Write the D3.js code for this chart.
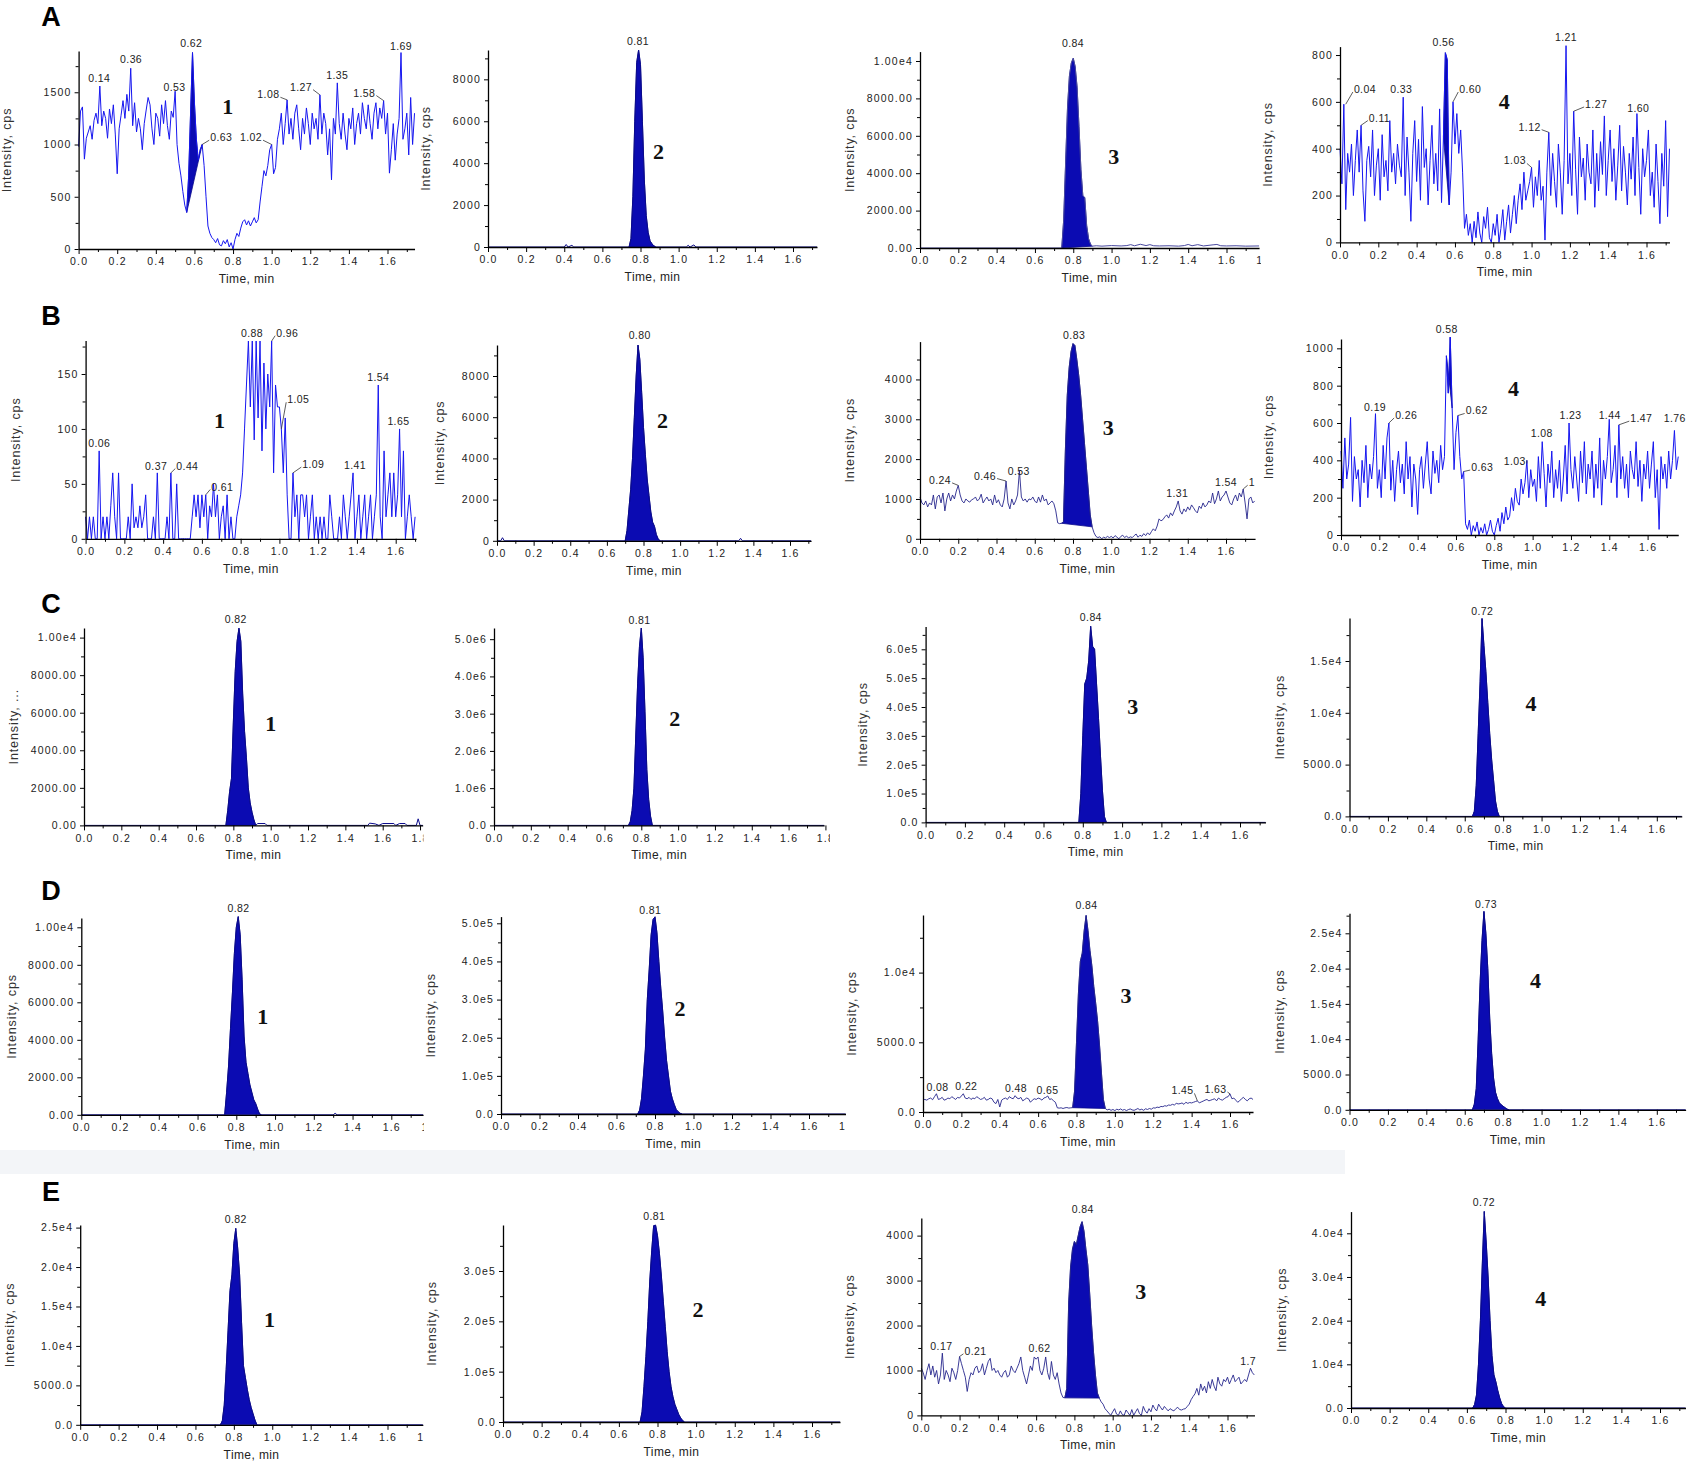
<!DOCTYPE html>
<html>
<head>
<meta charset="utf-8">
<title>LC-MS/MS chromatograms A-E</title>
<script src="https://cdn.jsdelivr.net/npm/d3@7"></script>
<style>
body{margin:0;background:#fff;}
svg text{font-family:"Liberation Sans",Arial,sans-serif;}
</style>
</head>
<body>
<svg id="chart" width="1694" height="1463"></svg>
<script>

// ------------------------------------------------------------------
// ---------------------------- DATA --------------------------------
// ------------------------------------------------------------------

// noisy traces: one value every 0.01 min, starting at 0.00 min
var A1_values = [
 980,1320,1360,860,1060,1120,1180,1050,1230,1300,
 1200,1560,1180,1320,1250,1060,1340,1200,1380,1100,
 720,1150,1280,1420,1250,1480,1320,1730,1180,1400,
 1120,1250,1150,950,1200,1330,1450,1380,1150,1000,
 1300,1250,1080,1380,1200,1420,1180,1050,1320,1260,
 1510,1000,820,700,550,420,350,700,1300,1880,
 1400,1050,850,950,1000,800,500,220,150,110,
 90,60,100,40,30,80,50,90,20,60,
 0,90,150,120,200,260,280,230,270,220,
 260,300,250,280,450,600,750,700,800,950,
 1000,720,780,1050,1150,1300,1000,1200,1427,1100,
 1250,1050,1300,1380,1150,950,1250,1100,1350,1200,
 1000,1300,1150,1250,1050,1475,1100,1300,1200,900,
 1150,662,1250,1100,1590,1200,1050,1300,1100,950,
 1250,1150,1350,1000,1200,1300,1100,1400,1250,1150,
 1380,1200,1050,1300,1400,1150,1350,1250,1420,1100,
 1300,726,950,1200,850,1100,1250,1880,1050,1150,
 1300,900,1450,1000,1300];

var A4_values = [
 400,250,590,140,380,300,420,200,350,480,
 300,500,220,90,350,410,280,480,200,330,
 400,180,460,280,350,220,520,300,380,250,
 420,330,280,620,200,450,300,90,380,520,
 260,440,180,580,320,400,160,350,500,250,
 380,220,570,170,450,810,780,160,300,600,
 420,550,380,480,300,60,120,30,80,0,
 90,20,130,40,0,110,60,150,20,0,
 80,30,120,0,60,140,10,90,160,40,
 120,200,80,180,250,140,300,180,220,260,
 320,150,280,200,350,180,240,10,300,470,
 200,380,260,150,420,300,120,350,840,250,
 380,200,560,310,120,450,280,360,180,420,
 300,250,480,150,380,220,430,290,540,200,
 350,480,260,400,180,330,500,220,410,300,
 160,380,270,450,200,550,320,120,400,280,
 350,480,200,300,150,420,260,80,380,240,
 520,110,400];

var B1_values = [
 20,0,20,0,20,0,0,80,0,20,
 0,20,0,30,60,20,0,60,0,0,
 0,0,20,0,50,10,20,10,30,10,
 20,40,0,0,0,20,0,60,0,0,
 0,0,20,0,60,0,0,50,0,0,
 0,0,0,0,0,20,40,20,40,10,
 40,20,40,0,30,20,50,20,40,0,
 20,30,0,40,0,20,0,0,20,30,
 40,60,100,140,180,120,180,90,180,110,
 180,80,160,100,150,120,180,60,140,120,
 120,100,60,110,40,0,0,60,20,40,
 0,40,40,20,40,0,20,40,0,20,
 0,20,0,20,0,0,40,20,0,0,
 0,20,0,40,20,0,20,40,60,0,
 20,40,0,20,40,0,20,40,0,20,
 40,140,20,0,80,20,40,60,20,60,
 20,40,100,20,80,0,20,40,20,0,
 20];

var B3_values = [
 1050,900,850,950,800,900,850,1100,750,1050,
 1100,900,1150,700,1000,1150,950,1100,1000,1200,
 1340,1100,950,900,1000,950,920,980,1000,1050,
 950,1000,1120,900,980,1050,950,1000,850,1100,
 900,980,850,800,1000,1450,900,750,1000,850,
 950,1100,1710,1050,950,1000,920,1000,980,1050,
 950,900,1050,920,1100,950,1000,850,900,950,
 880,700,400,380,390,420,2200,3600,4300,4700,
 4900,4850,4500,4100,3600,3000,2400,1800,1200,600,
 300,150,60,30,50,0,40,20,60,30,
 60,20,80,40,0,60,90,30,70,20,
 50,30,80,120,40,90,60,130,80,150,
 100,180,250,200,320,500,450,480,550,600,
 520,650,580,700,800,950,700,620,750,680,
 800,720,850,780,700,650,820,760,900,800,
 850,950,900,1150,880,1000,1200,950,1050,1100,
 1200,1050,900,850,1000,1100,950,1150,1050,1250,
 900,500,1000,1050,900,950];

var B4_values = [
 450,250,520,300,380,630,180,420,300,350,
 150,400,280,480,200,380,300,420,650,250,
 350,200,480,300,520,600,240,400,180,350,
 450,280,380,220,500,300,420,150,380,300,
 110,350,420,250,380,500,300,220,450,330,
 400,280,480,350,420,960,760,1060,680,350,
 550,640,420,300,340,60,30,80,0,50,
 20,70,0,40,10,60,0,30,80,20,
 0,50,90,20,120,60,150,80,100,200,
 130,250,180,160,300,220,280,400,200,350,
 260,300,180,420,250,500,330,150,380,280,
 450,200,350,250,400,180,300,480,220,600,
 350,250,420,300,180,450,280,500,220,380,
 300,450,200,380,250,520,160,400,300,420,
 620,280,350,480,200,590,300,420,250,380,
 200,450,350,300,500,260,400,180,380,300,
 450,250,380,500,200,350,30,420,300,380,
 250,450,300,400,560,350,420];

var D3_values = [
 880,900,850,950,1000,880,1100,1310,900,950,
 1050,850,900,1000,950,1100,1000,900,1050,1000,
 1150,1310,1000,950,1050,900,1000,950,1100,1000,
 900,950,1050,850,900,1000,950,700,600,900,
 360,850,950,1000,900,1100,1000,950,1170,1000,
 950,1050,800,900,1000,950,700,850,950,900,
 1000,950,850,1000,1050,1150,900,950,800,700,
 300,280,300,250,300,320,280,300,310,1500,
 5000,8500,10800,11400,13000,14100,13000,11600,10500,9000,
 7800,6500,4800,2800,900,250,150,200,120,180,
 100,200,150,220,130,180,100,170,220,150,
 120,180,250,150,200,120,230,180,250,200,
 300,280,350,320,400,380,450,420,500,480,
 550,500,620,580,600,650,550,700,620,680,
 650,700,750,800,650,720,780,850,900,800,
 850,900,950,800,1000,900,850,950,1050,1100,
 1300,950,1000,850,700,800,950,1050,900,800,
 950,1000,900];

var E3_values = [
 1050,950,800,1000,1150,900,1100,850,1000,700,
 900,1385,800,1000,900,750,1050,950,800,1000,
 1310,1150,1000,850,533,800,950,900,1050,1100,
 950,1000,1150,900,1050,1200,1270,1000,1050,950,
 1000,900,850,950,1000,850,900,1100,1000,950,
 1050,1150,1300,1000,850,700,900,1100,1000,1300,
 1250,1300,1000,900,1050,1300,950,800,1200,900,
 800,950,700,500,400,390,600,2500,3300,3700,
 3870,3800,4000,4200,4310,4100,3700,3350,2700,2000,
 1400,900,500,385,300,250,150,100,50,0,
 80,150,30,0,100,20,0,120,60,0,
 130,0,80,150,40,0,200,100,50,150,
 80,230,150,100,250,180,120,200,150,100,
 150,120,100,150,180,130,120,140,150,200,
 250,350,420,480,600,450,700,550,650,500,
 750,600,800,650,550,850,700,650,800,750,
 850,700,800,900,750,800,850,700,750,800,
 750,900,1050,950,900];

// peak traces: [time (min), intensity (cps)]
var A2_trace = [[0,0],[0.40,0],[0.41,120],[0.42,0],[0.44,80],[0.45,0],[0.74,0],[0.75,400],[0.76,2400],[0.77,6000],[0.78,8800],[0.79,9400],[0.80,8700],[0.81,6000],[0.82,3200],[0.83,1500],[0.84,700],[0.85,300],[0.86,150],[0.87,60],[0.88,0],[1.04,0],[1.05,80],[1.06,0],[1.08,100],[1.09,0],[1.726,0]];
var A3_trace = [[0,0],[0.74,0],[0.75,1500],[0.76,4500],[0.77,7500],[0.78,9200],[0.79,9900],[0.80,10150],[0.81,9700],[0.82,8600],[0.83,6500],[0.84,4200],[0.85,2800],[0.86,2700],[0.87,1200],[0.88,500],[0.89,200],[0.90,100],[0.92,120],[0.95,100],[1.00,130],[1.05,110],[1.08,130],[1.10,180],[1.12,120],[1.15,200],[1.18,130],[1.20,180],[1.22,120],[1.25,110],[1.30,120],[1.35,100],[1.38,130],[1.40,190],[1.42,120],[1.45,180],[1.48,110],[1.53,170],[1.55,190],[1.57,120],[1.60,110],[1.65,120],[1.70,100],[1.77,110]];
var B2_trace = [[0,0],[0.02,0],[0.03,150],[0.04,0],[0.70,0],[0.71,500],[0.72,1500],[0.73,2500],[0.74,4000],[0.75,6000],[0.76,8000],[0.77,9500],[0.78,8800],[0.79,7200],[0.80,5500],[0.81,4200],[0.82,3000],[0.83,2200],[0.84,1400],[0.85,900],[0.86,700],[0.87,300],[0.88,100],[0.89,0],[1.32,0],[1.33,120],[1.34,0],[1.715,0]];
var C1_trace = [[0,0],[0.76,0],[0.77,800],[0.78,1800],[0.79,2500],[0.80,5500],[0.81,8200],[0.82,9800],[0.83,10500],[0.84,9800],[0.85,7000],[0.86,5000],[0.87,3600],[0.88,2000],[0.89,1200],[0.90,700],[0.91,300],[0.92,0],[0.93,100],[0.97,100],[0.98,0],[1.52,0],[1.53,120],[1.56,80],[1.58,0],[1.60,100],[1.66,100],[1.67,0],[1.69,100],[1.72,100],[1.73,0],[1.78,0],[1.79,350],[1.80,0],[1.815,0]];
var C2_trace = [[0,0],[0.73,0],[0.74,100000],[0.75,400000],[0.76,1000000],[0.77,2400000],[0.78,3800000],[0.79,4800000],[0.80,5300000],[0.81,4500000],[0.82,3050000],[0.83,1500000],[0.84,700000],[0.85,250000],[0.86,0],[1.793,0]];
var C3_trace = [[0,0],[0.78,0],[0.79,100000],[0.80,300000],[0.81,480000],[0.82,500000],[0.83,560000],[0.84,680000],[0.85,610000],[0.86,600000],[0.87,480000],[0.88,360000],[0.89,230000],[0.90,110000],[0.91,20000],[0.92,0],[1.73,0]];
var C4_trace = [[0,0],[0.64,0],[0.65,500],[0.66,3000],[0.67,8000],[0.68,13000],[0.69,19100],[0.70,16500],[0.71,14000],[0.72,11000],[0.73,8000],[0.74,5500],[0.75,3500],[0.76,1500],[0.77,500],[0.78,0],[1.73,0]];
var D1_trace = [[0,0],[0.74,0],[0.75,1200],[0.76,2600],[0.77,4600],[0.78,6500],[0.79,8600],[0.80,10000],[0.81,10570],[0.82,9600],[0.83,7200],[0.84,4200],[0.85,2800],[0.86,2200],[0.87,1600],[0.88,1200],[0.89,800],[0.90,600],[0.91,300],[0.92,50],[0.93,0],[1.30,0],[1.31,80],[1.32,0],[1.764,0]];
var D2_trace = [[0,0],[0.71,0],[0.72,10000],[0.73,40000],[0.74,100000],[0.75,170000],[0.76,300000],[0.77,380000],[0.78,470000],[0.79,510000],[0.80,517000],[0.81,475000],[0.82,400000],[0.83,330000],[0.84,270000],[0.85,200000],[0.86,140000],[0.87,100000],[0.88,60000],[0.89,40000],[0.90,25000],[0.91,12000],[0.92,6000],[0.93,2000],[0.94,0],[1.79,0]];
var D4_trace = [[0,0],[0.64,0],[0.65,800],[0.66,3000],[0.67,10000],[0.68,18000],[0.69,24000],[0.70,28100],[0.71,25000],[0.72,20000],[0.73,13000],[0.74,8000],[0.75,4500],[0.76,2500],[0.77,1600],[0.78,1000],[0.79,700],[0.80,500],[0.81,300],[0.82,100],[0.83,0],[1.75,0]];
var E1_trace = [[0,0],[0.73,0],[0.74,500],[0.75,2500],[0.76,7000],[0.77,12000],[0.78,17000],[0.79,19000],[0.80,23000],[0.81,24900],[0.82,22400],[0.83,19000],[0.84,13000],[0.85,7500],[0.86,6000],[0.87,4500],[0.88,3200],[0.89,2200],[0.90,1400],[0.91,600],[0.92,0],[1.784,0]];
var E2_trace = [[0,0],[0.71,0],[0.72,20000],[0.73,70000],[0.74,130000],[0.75,200000],[0.76,280000],[0.77,340000],[0.78,390000],[0.79,391000],[0.80,370000],[0.81,335000],[0.82,290000],[0.83,240000],[0.84,190000],[0.85,140000],[0.86,100000],[0.87,70000],[0.88,50000],[0.89,35000],[0.90,25000],[0.91,15000],[0.92,8000],[0.93,3000],[0.94,0],[1.745,0]];
var E4_trace = [[0,0],[0.63,0],[0.64,800],[0.65,3000],[0.66,9900],[0.67,20000],[0.68,33000],[0.69,45000],[0.70,38000],[0.71,30000],[0.72,20000],[0.73,12000],[0.74,7600],[0.75,6000],[0.76,4000],[0.77,2300],[0.78,1000],[0.79,300],[0.80,0],[1.732,0]];

// retention-time labels: [text, t, intensity, (leader to t, intensity)]
var A1_labels = [["0.14",0.107,1634],["0.36",0.272,1819],["0.53",0.497,1554],["0.62",0.584,1968],["1.69",1.67,1946],["1.08",0.983,1481,1.08,1427],["1.27",1.152,1554,1.25,1475],["1.35",1.34,1666],["1.58",1.48,1497,1.58,1420],["0.63",0.739,1070,0.64,1000],["1.02",0.893,1070,1.0,1000]];
var A2_labels = [["0.81",0.787,9824]];
var A3_labels = [["0.84",0.799,10980]];
var A4_labels = [["0.04",0.13,655,0.03,590],["0.11",0.206,533,0.11,500],["0.33",0.32,655],["0.56",0.54,854],["0.60",0.68,655,0.59,600],["1.03",0.913,350,1.0,320],["1.12",0.99,494,1.09,470],["1.21",1.18,878],["1.27",1.337,591,1.22,560],["1.60",1.557,575]];
var B1_labels = [["0.06",0.07,87.6],["0.37",0.364,66.7],["0.44",0.525,66.7,0.44,60],["0.61",0.705,47.6,0.62,40],["0.88",0.859,187.6],["0.96",1.04,187.6,0.96,180],["1.05",1.097,127,1.01,100],["1.09",1.175,68,1.07,60],["1.41",1.39,67],["1.54",1.51,147],["1.65",1.614,107.6]];
var B2_labels = [["0.80",0.779,9987]];
var B3_labels = [["0.24",0.105,1479,0.2,1340],["0.46",0.34,1587,0.45,1450],["0.53",0.516,1711],["0.83",0.806,5115],["1.31",1.345,1157],["1.54",1.60,1421],["1",1.735,1421,1.69,1250]];
var B4_labels = [["0.19",0.178,684],["0.26",0.34,643,0.25,600],["0.58",0.552,1101],["0.62",0.708,667,0.61,640],["0.63",0.737,364,0.64,340],["1.03",0.907,399,0.97,400],["1.08",1.048,545],["1.23",1.198,643],["1.44",1.402,643],["1.47",1.567,626,1.45,590],["1.76",1.742,626]];
var C1_labels = [["0.82",0.813,10975]];
var C2_labels = [["0.81",0.79,5527000]];
var C3_labels = [["0.84",0.841,711000]];
var C4_labels = [["0.72",0.691,19806]];
var D1_labels = [["0.82",0.811,11011]];
var D2_labels = [["0.81",0.775,534900]];
var D3_labels = [["0.84",0.852,14847],["0.08",0.076,1790],["0.22",0.226,1886],["0.48",0.485,1719],["0.65",0.649,1552],["1.45",1.352,1552,1.43,800],["1.63",1.524,1647,1.60,1300]];
var D4_labels = [["0.73",0.711,29100]];
var E1_labels = [["0.82",0.81,26056]];
var E2_labels = [["0.81",0.783,409000]];
var E3_labels = [["0.84",0.844,4585],["0.17",0.105,1548],["0.21",0.283,1437,0.2,1310],["0.62",0.618,1496],["1.7",1.708,1200]];
var E4_labels = [["0.72",0.688,47092]];

// y tick values and their printed labels
var TICKS_1500 = [0,500,1000,1500];
var TICKS_8000 = [0,2000,4000,6000,8000];
var TICKS_1E4 = [0,2000,4000,6000,8000,10000];
var LABELS_1E4 = ["0.00","2000.00","4000.00","6000.00","8000.00","1.00e4"];
var TICKS_800 = [0,200,400,600,800];
var TICKS_150 = [0,50,100,150];
var TICKS_4000 = [0,1000,2000,3000,4000];
var TICKS_1000 = [0,200,400,600,800,1000];
var TICKS_5E6 = [0,1e6,2e6,3e6,4e6,5e6];
var LABELS_5E6 = ["0.0","1.0e6","2.0e6","3.0e6","4.0e6","5.0e6"];
var TICKS_6E5 = [0,1e5,2e5,3e5,4e5,5e5,6e5];
var LABELS_6E5 = ["0.0","1.0e5","2.0e5","3.0e5","4.0e5","5.0e5","6.0e5"];
var TICKS_15E3 = [0,5000,10000,15000];
var LABELS_15E3 = ["0.0","5000.0","1.0e4","1.5e4"];
var TICKS_5E5 = [0,1e5,2e5,3e5,4e5,5e5];
var LABELS_5E5 = ["0.0","1.0e5","2.0e5","3.0e5","4.0e5","5.0e5"];
var TICKS_10E3 = [0,5000,10000];
var LABELS_10E3 = ["0.0","5000.0","1.0e4"];
var TICKS_25E3 = [0,5000,10000,15000,20000,25000];
var LABELS_25E3 = ["0.0","5000.0","1.0e4","1.5e4","2.0e4","2.5e4"];
var TICKS_3E5 = [0,1e5,2e5,3e5];
var LABELS_3E5 = ["0.0","1.0e5","2.0e5","3.0e5"];
var TICKS_4E4 = [0,1e4,2e4,3e4,4e4];
var LABELS_4E4 = ["0.0","1.0e4","2.0e4","3.0e4","4.0e4"];

var X_TICKS = [0,0.2,0.4,0.6,0.8,1.0,1.2,1.4,1.6];
var X_TICKS_18 = [0,0.2,0.4,0.6,0.8,1.0,1.2,1.4,1.6,1.8];

var ROW_LETTERS = ["A","B","C","D","E"];


// ------------------------------------------------------------------
// ---------------------------- LAYOUT ------------------------------
// ------------------------------------------------------------------

var COLOR_NOISE = "#1616f0";
var COLOR_BASE  = "#26268c";
var COLOR_FILL  = "#0b0bb2";
var COLOR_PEAK  = "#0a0a8c";

function fromValues(values){
	// every 0.01 min from 0.00
	return values.map(function(v,i){return [Math.round(i)/100, v];});
}

var panels = [
 {key:"A1",x0:78.6,x16:387.5,tEnd:1.74,y0:249,yTop:51,yMax:1895,yT:TICKS_1500,yL:null,ylOff:72,trace:fromValues(A1_values),fill:[[0.56,0.64]],lines:COLOR_NOISE,labels:A1_labels,num:["1",0.772,1363]},
 {key:"A2",x0:488,x16:793,tEnd:1.726,y0:247,yTop:50,yMax:9400,yT:TICKS_8000,yL:null,ylOff:62,trace:A2_trace,fill:[[0.74,0.88]],lines:COLOR_PEAK,labels:A2_labels,num:["2",0.895,4555]},
 {key:"A3",x0:920,x16:1226.5,tEnd:1.77,y0:248,yTop:51.6,yMax:10503,yT:TICKS_1E4,yL:LABELS_1E4,ylOff:70,xT:X_TICKS_18,clipX:1261,trace:A3_trace,fill:[[0.74,0.90]],lines:"#4a4aa0",labels:A3_labels,num:["3",1.011,4895]},
 {key:"A4",x0:1340,x16:1646.5,tEnd:1.72,y0:242.4,yTop:46.6,yMax:836,yT:TICKS_800,yL:null,ylOff:72,trace:fromValues(A4_values),fill:[[0.54,0.57]],lines:COLOR_NOISE,labels:A4_labels,num:["4",0.857,601]},

 {key:"B1",x0:85.6,x16:395.7,tEnd:1.705,y0:538.8,yTop:340.6,yMax:180.4,yT:TICKS_150,yL:null,ylOff:70,trace:fromValues(B1_values),fill:[],lines:COLOR_NOISE,labels:B1_labels,num:["1",0.691,108]},
 {key:"B2",x0:497,x16:790,tEnd:1.715,y0:540.8,yTop:345,yMax:9505,yT:TICKS_8000,yL:null,ylOff:57,trace:B2_trace,fill:[[0.70,0.89]],lines:COLOR_PEAK,labels:B2_labels,num:["2",0.904,5850]},
 {key:"B3",x0:920,x16:1226,tEnd:1.752,y0:538.8,yTop:341.6,yMax:4950,yT:TICKS_4000,yL:null,ylOff:70,trace:fromValues(B3_values),fill:[[0.74,0.90]],lines:COLOR_BASE,labels:B3_labels,num:["3",0.984,2800]},
 {key:"B4",x0:1341,x16:1647.6,tEnd:1.76,y0:535,yTop:339,yMax:1050,yT:TICKS_1000,yL:null,ylOff:72,trace:fromValues(B4_values),fill:[[0.55,0.58]],lines:COLOR_NOISE,labels:B4_labels,num:["4",0.90,786]},

 {key:"C1",x0:84,x16:382.7,tEnd:1.815,y0:825.4,yTop:628,yMax:10511,yT:TICKS_1E4,yL:LABELS_1E4,ylOff:70.5,ylText:"Intensity, ...",xT:X_TICKS_18,clipX:423.5,trace:C1_trace,fill:[[0.76,0.92]],lines:COLOR_PEAK,labels:C1_labels,num:["1",1.0,5443]},
 {key:"C2",x0:494,x16:788.6,tEnd:1.793,y0:825.4,yTop:628,yMax:5300000,yT:TICKS_5E6,yL:LABELS_5E6,ylOff:null,xT:X_TICKS_18,clipX:830,trace:C2_trace,fill:[[0.73,0.86]],lines:COLOR_PEAK,labels:C2_labels,num:["2",0.981,2875000]},
 {key:"C3",x0:925.6,x16:1240,tEnd:1.73,y0:822.4,yTop:626.6,yMax:678700,yT:TICKS_6E5,yL:LABELS_6E5,ylOff:63,trace:C3_trace,fill:[[0.78,0.92]],lines:COLOR_PEAK,labels:C3_labels,num:["3",1.054,402000]},
 {key:"C4",x0:1349.5,x16:1656.8,tEnd:1.73,y0:816.4,yTop:618,yMax:19151,yT:TICKS_15E3,yL:LABELS_15E3,ylOff:69.5,trace:C4_trace,fill:[[0.64,0.78]],lines:COLOR_PEAK,labels:C4_labels,num:["4",0.945,10914]},

 {key:"D1",x0:81.3,x16:391.3,tEnd:1.764,y0:1114.8,yTop:918,yMax:10496,yT:TICKS_1E4,yL:LABELS_1E4,ylOff:69.3,xT:X_TICKS_18,clipX:424,trace:D1_trace,fill:[[0.74,0.93]],lines:COLOR_PEAK,labels:D1_labels,num:["1",0.937,5239]},
 {key:"D2",x0:501,x16:809,tEnd:1.79,y0:1114,yTop:916.6,yMax:517566,yT:TICKS_5E5,yL:LABELS_5E5,ylOff:70,xT:X_TICKS_18,clipX:846,trace:D2_trace,fill:[[0.71,0.94]],lines:COLOR_PEAK,labels:D2_labels,num:["2",0.93,277500]},
 {key:"D3",x0:923,x16:1230,tEnd:1.72,y0:1112,yTop:915,yMax:14132,yT:TICKS_10E3,yL:LABELS_10E3,ylOff:71,trace:fromValues(D3_values),fill:[[0.78,0.95]],lines:COLOR_BASE,labels:D3_labels,num:["3",1.058,8331]},
 {key:"D4",x0:1349.5,x16:1656.8,tEnd:1.75,y0:1109.8,yTop:913.3,yMax:27833,yT:TICKS_25E3,yL:LABELS_25E3,ylOff:69.5,trace:D4_trace,fill:[[0.64,0.83]],lines:COLOR_PEAK,labels:D4_labels,num:["4",0.968,18302]},

 {key:"E1",x0:80.2,x16:387.5,tEnd:1.784,y0:1424.8,yTop:1225,yMax:25330,yT:TICKS_25E3,yL:LABELS_25E3,ylOff:70.2,xT:X_TICKS_18,clipX:424,trace:E1_trace,fill:[[0.73,0.92]],lines:COLOR_PEAK,labels:E1_labels,num:["1",0.985,13302]},
 {key:"E2",x0:503,x16:812,tEnd:1.745,y0:1422,yTop:1225,yMax:391391,yT:TICKS_3E5,yL:LABELS_3E5,ylOff:71,trace:E2_trace,fill:[[0.71,0.94]],lines:COLOR_PEAK,labels:E2_labels,num:["2",1.01,222700]},
 {key:"E3",x0:921.3,x16:1227.5,tEnd:1.741,y0:1415.4,yTop:1218,yMax:4392,yT:TICKS_4000,yL:null,ylOff:71.5,trace:fromValues(E3_values),fill:[[0.75,0.93]],lines:COLOR_BASE,labels:E3_labels,num:["3",1.147,2755]},
 {key:"E4",x0:1351,x16:1660,tEnd:1.732,y0:1408,yTop:1211.6,yMax:44968,yT:TICKS_4E4,yL:LABELS_4E4,ylOff:69.3,trace:E4_trace,fill:[[0.63,0.80]],lines:COLOR_PEAK,labels:E4_labels,num:["4",0.982,25146]}
];

// row letters: [x, baseline y]
var LETTER_POS = [[51,26],[51,325],[51,613],[51,900],[51,1201]];


// ------------------------------------------------------------------
// ---------------------------- DRAW --------------------------------
// ------------------------------------------------------------------

var svg = d3.select("#chart");
svg.append("rect").attr("width",1694).attr("height",1463).style("fill","#fff");
// faint grey strip above row E (scan artefact of the original figure)
svg.append("rect").attr("x",0).attr("y",1150).attr("width",1345).attr("height",24).style("fill","#f3f5f8");

ROW_LETTERS.forEach(function(l,i){
	svg.append("text").attr("x",LETTER_POS[i][0]).attr("y",LETTER_POS[i][1])
		.attr("text-anchor","middle")
		.style("font-size","27px").style("font-weight","bold").style("fill","#000")
		.text(l);
});

panels.forEach(drawPanel);


/** renders one chromatogram
*/
function drawPanel(p){
	var pxPerMin = (p.x16-p.x0)/1.6;
	var x = d3.scaleLinear().domain([0,p.tEnd]).range([p.x0, p.x0+p.tEnd*pxPerMin]);
	var y = d3.scaleLinear().domain([0,p.yMax]).range([p.y0,p.yTop]);

	var g = svg.append("g").attr("id","panel_"+p.key);
	var line = d3.line().x(function(d){return x(d[0]);}).y(function(d){return y(d[1]);});

	// integrated peaks: area between trace and the start-end chord
	p.fill.forEach(function(f){
		var seg = p.trace.filter(function(d){return d[0]>=f[0]-1e-6 && d[0]<=f[1]+1e-6;});
		g.append("path")
			.attr("d",line(seg)+"Z")
			.style("fill",COLOR_FILL)
			.style("stroke",COLOR_PEAK)
			.style("stroke-width",0.8);
	});

	g.append("path")
		.datum(p.trace)
		.attr("d",line)
		.style("fill","none")
		.style("stroke",p.lines)
		.style("stroke-width",p.lines==COLOR_BASE ? 0.9 : 1)
		.style("stroke-linejoin","round");

	// ---- x axis
	var xT = p.xT || X_TICKS;
	var gx = g.append("g").attr("transform","translate(0,"+p.y0+")");
	if (p.clipX){
		// clip box is in the axis group's own (translated) coordinates
		svg.append("clipPath").attr("id","clip_"+p.key)
			.append("rect").attr("x",p.x0-30).attr("y",-10).attr("width",p.clipX-p.x0+30).attr("height",40);
		gx.attr("clip-path","url(#clip_"+p.key+")");
	}
	var minorX = [];
	for (var i=1;i<=17;i+=2) if (i/10 < p.tEnd) minorX.push(i/10);
	gx.call(d3.axisBottom(x).tickValues(minorX).tickSize(3).tickSizeOuter(0).tickFormat(""));
	var gxm = gx.append("g").call(d3.axisBottom(x).tickValues(xT).tickSize(5).tickSizeOuter(0).tickPadding(4).tickFormat(d3.format(".1f")));
	gxm.select(".domain").remove();
	styleAxis(gx);

	g.append("text")
		.attr("x",(x.range()[0]+x.range()[1])/2).attr("y",p.y0+30)
		.attr("text-anchor","middle").attr("dominant-baseline","central")
		.style("font-size","12px").style("letter-spacing","0.4px").style("fill","#222")
		.text("Time, min");

	// ---- y axis
	var gy = g.append("g").attr("transform","translate("+p.x0+",0)");
	var minorY = [];
	for (var j=0;j<p.yT.length;j++){
		var step = p.yT[1]-p.yT[0];
		var m = p.yT[j]+step/2;
		if (m < p.yMax) minorY.push(m);
	}
	gy.call(d3.axisLeft(y).tickValues(minorY).tickSize(3).tickSizeOuter(0).tickFormat(""));
	var gym = gy.append("g").call(d3.axisLeft(y).tickValues(p.yT).tickSize(4).tickPadding(3)
		.tickFormat(function(d,i){return p.yL ? p.yL[i] : String(d);}));
	gym.select(".domain").remove();
	styleAxis(gy);

	if (p.ylOff){
		g.append("text")
			.attr("transform","translate("+(p.x0-p.ylOff)+","+((p.y0+p.yTop)/2)+") rotate(-90)")
			.attr("text-anchor","middle").attr("dominant-baseline","central")
			.style("font-size","12.5px").style("letter-spacing","0.9px").style("fill","#333")
			.text(p.ylText || "Intensity, cps");
	}

	// ---- retention time labels
	p.labels.forEach(function(l){
		var t = g.append("text")
			.attr("x",x(l[1])).attr("y",y(l[2]))
			.attr("text-anchor","middle").attr("dominant-baseline","central")
			.style("font-size","10.5px").style("letter-spacing","0.4px").style("fill","#222")
			.text(l[0]);
		if (l.length>3){
			var w = t.node().getComputedTextLength();
			var lx = x(l[1]), px = x(l[3]);
			var sx = px < lx ? lx-w/2-1 : lx+w/2+1;
			g.append("line")
				.attr("x1",sx).attr("y1",y(l[2])+3)
				.attr("x2",px).attr("y2",y(l[4]))
				.style("stroke","#333").style("stroke-width",0.8);
		}
	});

	// ---- compound number
	g.append("text")
		.attr("x",x(p.num[1])).attr("y",y(p.num[2]))
		.attr("text-anchor","middle").attr("dominant-baseline","central")
		.style("font-family","'Liberation Serif','Times New Roman',serif")
		.style("font-size","22px").style("font-weight","bold").style("fill","#111")
		.text(p.num[0]);
}

function styleAxis(a){
	a.selectAll(".domain").style("stroke","#000").style("stroke-width",1.3);
	a.selectAll(".tick line").style("stroke","#000").style("stroke-width",1);
	a.selectAll(".tick text").style("font-size","10.5px").style("letter-spacing","1.2px").style("fill","#222")
		.style("font-family","'Liberation Sans',Arial,sans-serif");
}

</script>
</body>
</html>
